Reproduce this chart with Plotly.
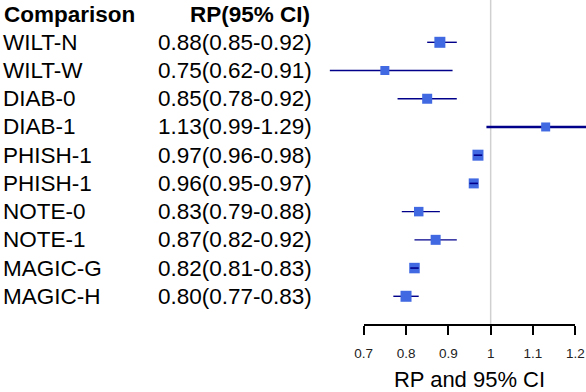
import plotly.graph_objects as go

# forest plot data
comparisons = ["WILT-N", "WILT-W", "DIAB-0", "DIAB-1", "PHISH-1",
               "PHISH-1", "NOTE-0", "NOTE-1", "MAGIC-G", "MAGIC-H"]
rp = [0.88, 0.75, 0.85, 1.13, 0.97, 0.96, 0.83, 0.87, 0.82, 0.80]
ci_low = [0.85, 0.62, 0.78, 0.99, 0.96, 0.95, 0.79, 0.82, 0.81, 0.77]
ci_high = [0.92, 0.91, 0.92, 1.29, 0.98, 0.97, 0.88, 0.92, 0.83, 0.83]
tick_vals = [0.7, 0.8, 0.9, 1, 1.1, 1.2]
tick_text = ["0.7", "0.8", "0.9", "1", "1.1", "1.2"]

W, H = 586, 392
BOX = "#4169E1"
LINE = "#00008B"
FONT = "Liberation Sans, Arial, sans-serif"
box_px = [11, 9, 10, 9, 11, 10, 9.5, 10, 10.5, 11]

# pixel geometry of the axis
ax_left, ax_right = 363.7, 575.3
px_per_unit = (ax_right - ax_left) / (tick_vals[-1] - tick_vals[0])
data_left = 293
x_lo = tick_vals[0] - (ax_left - data_left) / px_per_unit
x_hi = tick_vals[0] + (W - ax_left) / px_per_unit

row0, row_h = 42.3, 28.22
y_top = 1 - row0 / row_h
y_bot = 1 + (H - row0) / row_h
rows = list(range(1, len(comparisons) + 1))
axis_row = len(comparisons) + 1
axis_pos = 1 - (row0 + row_h * (axis_row - 1)) / H

fig = go.Figure()

inner = [(h - l) * px_per_unit < b for l, h, b in zip(ci_low, ci_high, box_px)]

for i, r in enumerate(rows):
    if inner[i]:
        continue
    fig.add_trace(go.Scatter(
        x=[ci_low[i], ci_high[i]], y=[r, r], mode="lines",
        line=dict(color=LINE, width=2.5 if ci_high[i] > x_hi else 1.4),
        showlegend=False, hoverinfo="skip"))

fig.add_trace(go.Scatter(
    x=rp, y=rows, mode="markers",
    marker=dict(symbol="square", color=BOX, size=box_px, opacity=1,
                line=dict(width=0)),
    showlegend=False))

# CI lines narrower than their box are drawn on top of it
for i, r in enumerate(rows):
    if not inner[i]:
        continue
    fig.add_trace(go.Scatter(
        x=[ci_low[i], ci_high[i]], y=[r, r], mode="lines",
        line=dict(color=LINE, width=1.6),
        showlegend=False, hoverinfo="skip"))

# dummy trace so the tick axis is drawn
fig.add_trace(go.Scatter(x=[tick_vals[0], tick_vals[-1]], y=[None, None],
                         xaxis="x2", yaxis="y", mode="lines",
                         showlegend=False, hoverinfo="skip"))

fig.add_shape(type="line", xref="x", yref="y", x0=1, x1=1,
              y0=y_top, y1=axis_row, line=dict(color="#d0d0d0", width=1.5),
              layer="below")

ann = []
ann.append(dict(x=2 / W, y=0, text="<b>Comparison</b>", xanchor="left", size=22.5))
ann.append(dict(x=312 / W, y=0, text="<b>RP(95% CI)</b>", xanchor="right", size=22.5))
for i, r in enumerate(rows):
    ann.append(dict(x=1 / W, y=r, text=comparisons[i], xanchor="left", size=22.5))
    ann.append(dict(x=313.5 / W, y=r,
                    text=f"{rp[i]:.2f}({ci_low[i]:.2f}-{ci_high[i]:.2f})",
                    xanchor="right", size=22.5))
for a in ann:
    a.update(xref="paper", yref="y", yanchor="middle", showarrow=False,
             font=dict(family=FONT, size=a.pop("size"), color="#000"))

fig.update_layout(
    width=W, height=H,
    margin=dict(l=0, r=0, t=0, b=0, pad=0, autoexpand=False),
    paper_bgcolor="white", plot_bgcolor="rgba(0,0,0,0)",
    annotations=ann,
    xaxis=dict(domain=[data_left / W, 1], range=[x_lo, x_hi], visible=False),
    xaxis2=dict(domain=[ax_left / W, ax_right / W],
                range=[tick_vals[0], tick_vals[-1]],
                anchor="free", position=axis_pos, side="bottom",
                tickvals=tick_vals, ticktext=tick_text,
                showline=True, linecolor="#000", linewidth=2,
                ticks="outside", ticklen=9, tickwidth=2, tickcolor="#000",
                ticklabelstandoff=7,
                showgrid=False, zeroline=False,
                tickfont=dict(family=FONT, size=13.5, color="#222"),
                title=dict(text="RP and 95% CI", standoff=14,
                           font=dict(family=FONT, size=22, color="#000"))),
    yaxis=dict(domain=[0, 1], range=[y_bot, y_top], visible=False),
)

# drop the default page margin so the figure sits at the window corner
fig.write_html("out.html", config={"displayModeBar": False},
               post_script="document.body.style.margin='0';")
